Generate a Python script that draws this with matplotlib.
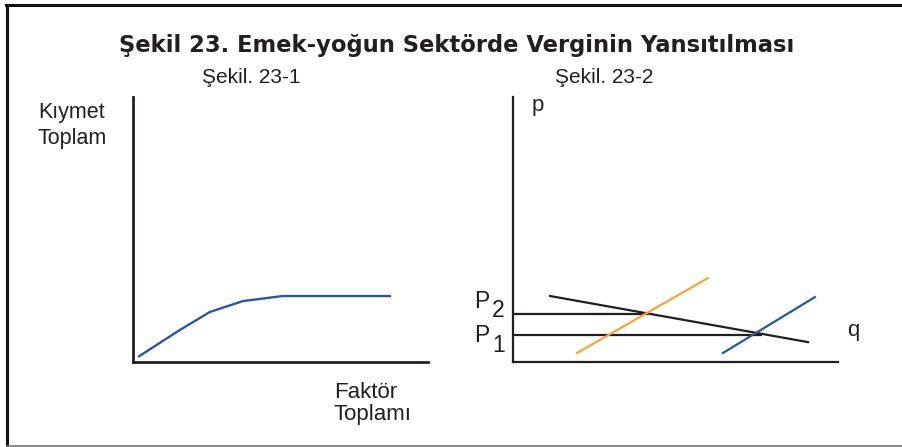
"""
Şekil 23: two schematic panels (production curve and tax shifting).
"""
import matplotlib
matplotlib.use("Agg")
import matplotlib.pyplot as plt
from matplotlib.lines import Line2D
from matplotlib.transforms import blended_transform_factory

# Panel 23-1: total value vs. factor
curve_x = [0.17, 1.59, 2.61, 3.73, 5.08, 8.75]
curve_y = [0.19, 1.21, 1.89, 2.30, 2.49, 2.49]

# Panel 23-2: demand, supply with tax, supply without tax
demand_q = [1.14, 9.08]
demand_p = [2.49, 0.75]
supply_tax_q = [1.97, 6.00]
supply_tax_p = [0.34, 3.17]
supply_q = [6.46, 9.29]
supply_p = [0.34, 2.45]
price_levels = [1.02, 1.81]      # P1, P2
price_line_ends = [7.66, 4.15]   # where the horizontal price lines stop
price_labels = ["1", "2"]

title = "Şekil 23. Emek-yoğun Sektörde Verginin Yansıtılması"
sub_titles = ["Şekil. 23-1", "Şekil. 23-2"]

W, H = 903, 447
fig = plt.figure(figsize=(W / 100, H / 100), dpi=100)
plt.rcParams['font.family'] = ['Liberation Sans', 'DejaVu Sans']


def fx(px):
    return px / W


def fy(py):
    return 1 - py / H


def make_axes(x0, x1, y0, y1, lw):
    ax = fig.add_axes([fx(x0), fy(y1), fx(x1) - fx(x0), fy(y0) - fy(y1)])
    ax.set_xlim(0, 10)
    ax.set_ylim(0, 10)
    for s in ("top", "right"):
        ax.spines[s].set_visible(False)
    for s in ("left", "bottom"):
        ax.spines[s].set_linewidth(lw)
        ax.spines[s].set_color("#231f20")
        ax.spines[s].set_capstyle("projecting")
    ax.set_xticks([])
    ax.set_yticks([])
    ax.patch.set_visible(False)
    return ax


ax1 = make_axes(133, 428, 97, 362, 2.0)
ax1.plot(curve_x, curve_y, color="#2a56a6", lw=1.7, solid_capstyle="butt")

ax2 = make_axes(513, 838, 97, 362, 1.6)
for lvl, end in zip(price_levels, price_line_ends):
    ax2.plot([0, end], [lvl, lvl], color="#231f20", lw=1.6, solid_capstyle="butt")
ax2.plot(demand_q, demand_p, color="#231f20", lw=1.6)
ax2.plot(supply_tax_q, supply_tax_p, color="#f6a53c", lw=1.6)
ax2.plot(supply_q, supply_p, color="#2a56a6", lw=1.6)

# P1 / P2 labels left of the price axis (P with a lowered index)
tr = blended_transform_factory(ax2.transAxes, ax2.transData)
for lvl, lab, p_off, d_off in zip(price_levels, price_labels, [-0.265, 0.23], [-0.64, -0.11]):
    ax2.text(-0.12, lvl + p_off, "P", transform=tr, fontsize=16.5,
             ha="left", va="baseline", color="#231f20")
    ax2.text(-0.065, lvl + d_off, lab, transform=tr, fontsize=16.5,
             ha="left", va="baseline", color="#231f20")

fig.text(fx(853), fy(336), "q", fontsize=16, ha="center", va="baseline", color="#231f20")
fig.text(fx(538), fy(111), "p", fontsize=16, ha="center", va="baseline", color="#231f20")

fig.text(fx(38), fy(118), "Kıymet", fontsize=15.5, ha="left", va="baseline", color="#231f20")
fig.text(fx(38), fy(144), "Toplam", fontsize=15.5, ha="left", va="baseline", color="#231f20")
fig.text(fx(334), fy(398), "Faktör", fontsize=16, ha="left", va="baseline", color="#231f20")
fig.text(fx(334), fy(420), "Toplamı", fontsize=16, ha="left", va="baseline", color="#231f20")

fig.text(fx(457), fy(52), title, fontsize=16.3, fontweight="bold", ha="center",
         va="baseline", color="#231f20", family=["DejaVu Sans"])
fig.text(fx(251), fy(83), sub_titles[0], fontsize=15, ha="center", va="baseline", color="#231f20")
fig.text(fx(604), fy(83), sub_titles[1], fontsize=15, ha="center", va="baseline", color="#231f20")

# outer frame: heavy top and left edges, thin grey bottom edge
fig.add_artist(Line2D([fx(7), fx(7)], [fy(445), fy(5)], color="#111111", lw=2.2))
fig.add_artist(Line2D([fx(6), fx(903)], [fy(5), fy(5)], color="#111111", lw=2.2))
fig.add_artist(Line2D([fx(7), fx(903)], [fy(445.5), fy(445.5)], color="#777777", lw=1.2))

fig.savefig("out.png", dpi=100)
